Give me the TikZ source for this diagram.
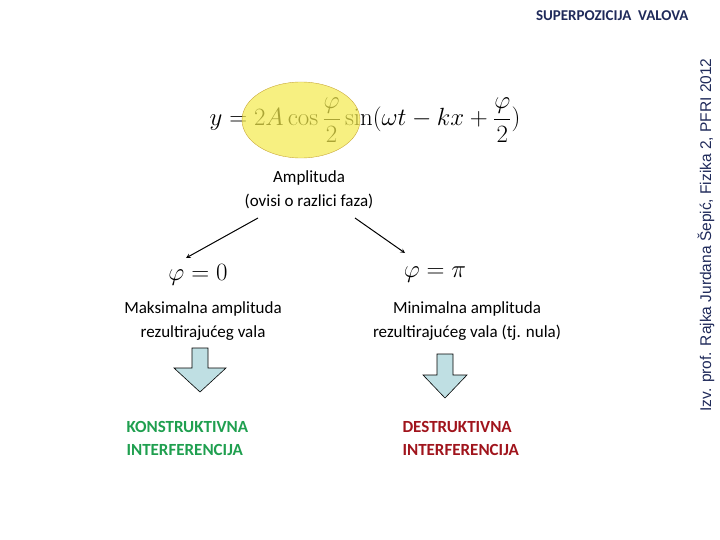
\documentclass[tikz,border=0pt]{standalone}
\usepackage{amsmath}
\usepackage[no-math]{fontspec}
\setmainfont{Carlito}
\newfontfamily\arialf{Liberation Sans}
\usetikzlibrary{shapes.geometric}
\definecolor{ellfill}{HTML}{F3EA4C}
\definecolor{ellline}{HTML}{C9A83A}
\definecolor{bluefill}{HTML}{BFDFE3}
\definecolor{green1}{HTML}{1F9F4F}
\definecolor{red1}{HTML}{A0141C}
\definecolor{navy}{HTML}{1F2A5A}
\tikzset{
  lbl/.style={font=\fontsize{17}{24}\selectfont, align=center},
  bigmath/.style={font=\fontsize{29}{34}\selectfont},
  res/.style={font=\bfseries\fontsize{17}{23}\selectfont, align=left, anchor=west},
  blk/.style={fill=bluefill, draw=black, line width=0.6pt},
  arr/.style={-stealth, line width=1pt}
}
\begin{document}
\begin{tikzpicture}[x=1pt,y=-1pt]
\useasboundingbox (0,0) rectangle (720,540);
\node[bigmath] (eq) at (365,120) {$y=2A\cos\dfrac{\varphi}{2}\sin(\omega t-kx+\dfrac{\varphi}{2})$};
\node[ellipse, fill=ellfill, draw=ellline, fill opacity=0.7, minimum width=118, minimum height=76] (ell) at (301,120) {};
\node[lbl] (amp) at (309,190) {Amplituda\\(ovisi o razlici faza)};
\node[bigmath] (p0) at (198,275) {$\varphi=0$};
\node[bigmath] (pp) at (435,275) {$\varphi=\pi$};
\coordinate (a1) at (258,218); \coordinate (a2) at (355,218);
\coordinate (b1) at (186,258); \coordinate (b2) at (405,253);
\draw[arr] (a1) -- (b1);
\draw[arr] (a2) -- (b2);
\node[lbl] (mx) at (203,321) {Maksimalna amplituda\\rezultirajućeg vala};
\node[lbl] (mn) at (467,321) {Minimalna amplituda\\rezultirajućeg vala (tj. nula)};
\draw[blk] (192,348) -- (208,348) -- (208,368) -- (226,368) -- (200,392) -- (174,368) -- (192,368) -- cycle;
\draw[blk] (437,354) -- (453,354) -- (453,375) -- (467,375) -- (445,398) -- (423,375) -- (437,375) -- cycle;
\node[res, text=green1] (kon) at (123,438) {KONSTRUKTIVNA\\INTERFERENCIJA};
\node[res, text=red1] (des) at (399,438) {DESTRUKTIVNA\\INTERFERENCIJA};
\node[anchor=east, text=navy, font=\bfseries\fontsize{15}{17}\selectfont] (title) at (692,16) {SUPERPOZICIJA\ \ VALOVA};
\node[rotate=90, text=navy, font=\arialf\fontsize{15.5}{17}\selectfont] (auth) at (706,235) {Izv. prof. Rajka Jurdana Šepić, Fizika 2, PFRI 2012};
\end{tikzpicture}
\end{document}
